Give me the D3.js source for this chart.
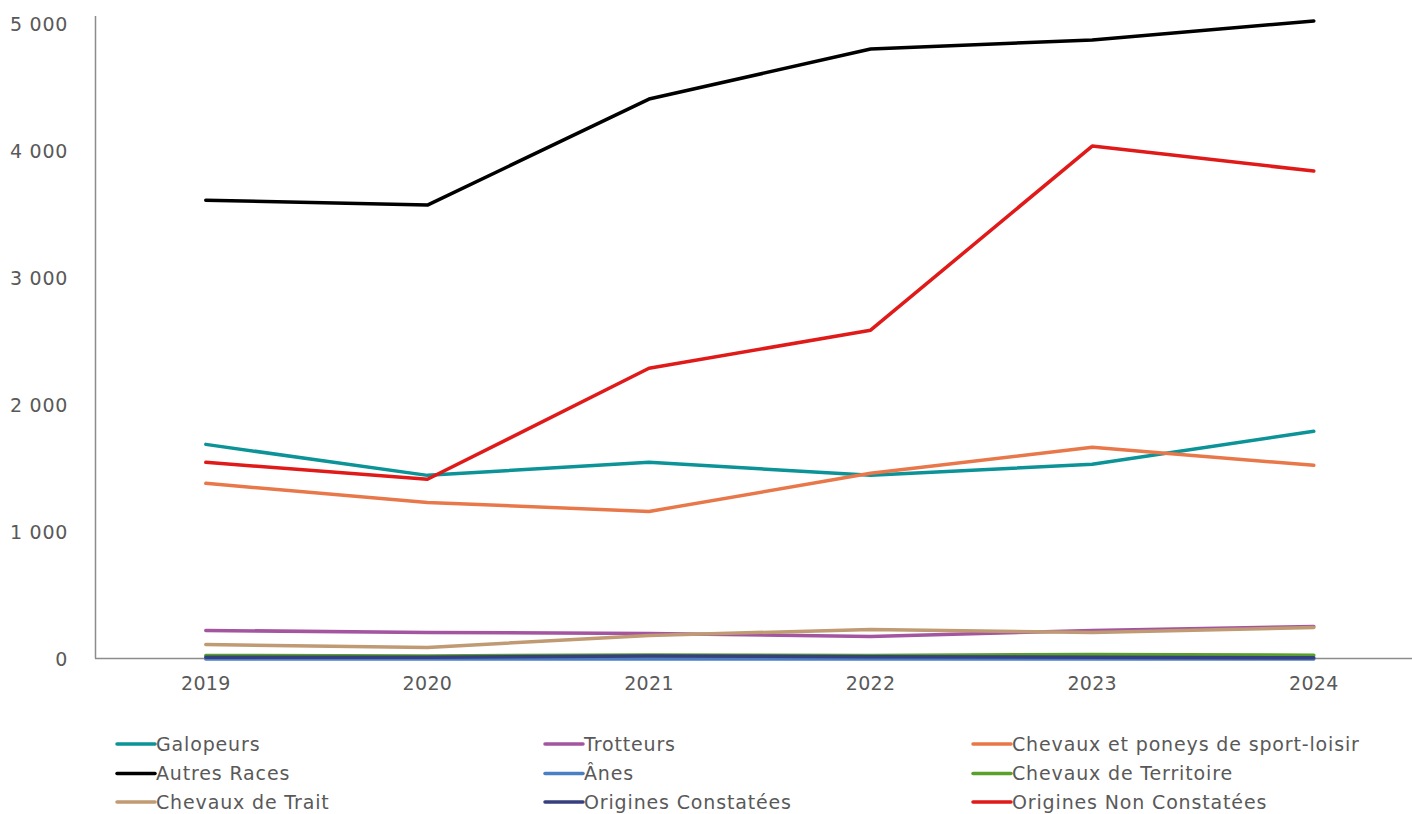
<!DOCTYPE html>
<html><head><meta charset="utf-8">
<script src="https://cdn.jsdelivr.net/npm/d3@7"></script>
<style>body{margin:0;background:#fff}svg{display:block}</style>
</head><body><svg id="c" width="1412" height="814"></svg>
<script>
const years = ["2019","2020","2021","2022","2023","2024"];
const yTicks = [0,1000,2000,3000,4000,5000];
const seriesNames = ["Galopeurs","Trotteurs","Chevaux et poneys de sport-loisir","Autres Races","Ânes","Chevaux de Territoire","Chevaux de Trait","Origines Constatées","Origines Non Constatées"];
const seriesColors = ["#0b9398","#a455a0","#e8784a","#000000","#4a7fc4","#5aa02c","#bf9a73","#37407f","#e01919"];
const galopeurs = [1686,1442,1545,1442,1529,1789];
const trotteurs = [221,205,197,173,221,252];
const sportLoisir = [1379,1229,1158,1458,1663,1521];
const autresRaces = [3609,3570,4405,4799,4870,5020];
const anes = [-4,-4,-4,-4,-4,-4];
const territoire = [24,20,28,24,32,26];
const trait = [110,87,181,229,205,244];
const originesConstatees = [10,10,20,14,10,6];
const originesNonConstatees = [1545,1411,2285,2585,4035,3838];
const seriesValues = [galopeurs,trotteurs,sportLoisir,autresRaces,anes,territoire,trait,originesConstatees,originesNonConstatees];

const svg = d3.select("#c");
const font = "'DejaVu Sans', sans-serif";
const x = d3.scaleBand().domain(years).range([95, 1424.6]);
const y = d3.scaleLinear().domain([0,5000]).range([658.5, 23.5]);

// axes
const gy = svg.append("g").attr("transform","translate(95,0)")
  .call(d3.axisLeft(y).tickValues(yTicks).tickSize(0).tickPadding(27)
    .tickFormat(d => d3.format(",")(d).replace(/,/g," ")));
gy.select(".domain").remove();
gy.selectAll("text").attr("fill","#595959").style("font-family",font).style("font-size","19px")
  .style("letter-spacing","0.7px").attr("dy","0.35em");
svg.append("line").attr("x1",95.5).attr("x2",95.5).attr("y1",16).attr("y2",658.5).attr("stroke","#8c8c8c").attr("stroke-width",1.5);

const gx = svg.append("g").attr("transform","translate(0,658.5)")
  .call(d3.axisBottom(x).tickSize(0).tickPadding(18));
gx.select(".domain").remove();
gx.selectAll("text").attr("fill","#595959").style("font-family",font).style("font-size","19px")
  .style("letter-spacing","0.3px");
svg.append("line").attr("x1",95).attr("x2",1412).attr("y1",658.5).attr("y2",658.5).attr("stroke","#8c8c8c").attr("stroke-width",1.5);

const line = d3.line().x((d,i) => x(years[i]) + x.bandwidth()/2).y(d => y(d));
seriesNames.forEach((n,i) => {
  svg.append("path").datum(seriesValues[i]).attr("d", line)
    .attr("fill","none").attr("stroke", seriesColors[i]).attr("stroke-width",3.5)
    .attr("stroke-linejoin","round").attr("stroke-linecap","round");
});

// legend
const colX = [117,545,973], rowY = [744,773.5,802];
seriesNames.forEach((n,i) => {
  const cx = colX[i%3], cy = rowY[Math.floor(i/3)];
  svg.append("line").attr("x1",cx).attr("x2",cx+38).attr("y1",cy).attr("y2",cy)
    .attr("stroke",seriesColors[i]).attr("stroke-width",3.5).attr("stroke-linecap","round");
  svg.append("text").attr("x",cx+39).attr("y",cy).attr("dy","0.35em")
    .attr("fill","#595959").style("font-family",font).style("font-size","19px")
    .style("letter-spacing","0.85px").text(n);
});
</script></body></html>
